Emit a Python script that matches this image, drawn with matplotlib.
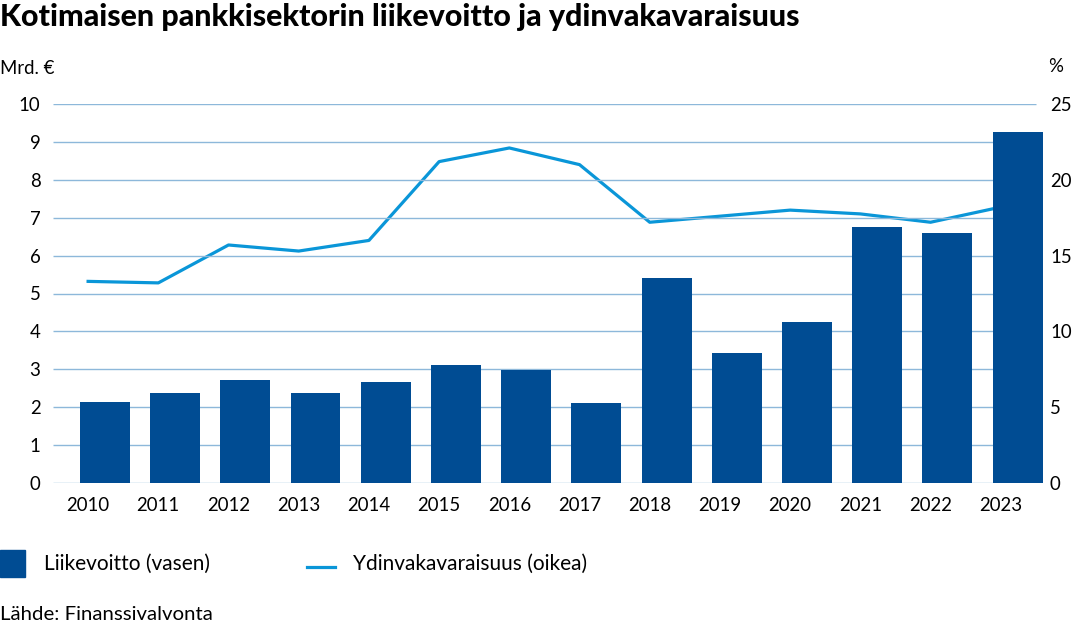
import matplotlib.pyplot as plt
from matplotlib.patches import Rectangle
from matplotlib.lines import Line2D

plt.rcParams['font.family'] = ['Lato', 'DejaVu Sans']

# Data
years = [2010, 2011, 2012, 2013, 2014, 2015, 2016, 2017, 2018, 2019, 2020, 2021, 2022, 2023]
liikevoitto = [2.14, 2.37, 2.72, 2.37, 2.66, 3.11, 2.98, 2.11, 5.41, 3.43, 4.25, 6.75, 6.60, 9.26]
ydinvakavaraisuus = [13.3, 13.2, 15.7, 15.3, 16.0, 21.2, 22.1, 21.0, 17.2, 17.6, 18.0, 17.75, 17.2, 18.2]

bar_color = "#004c93"
line_color = "#0a96d8"
grid_color = "#8db8da"

W, H = 1072, 623
fig = plt.figure(figsize=(W / 100, H / 100), dpi=100)

# axes position in pixels
x0, x1 = 53, 1045
y_top, y_bot = 104, 483
ax = fig.add_axes([x0 / W, 1 - y_bot / H, (x1 - x0) / W, (y_bot - y_top) / H])
ax2 = ax.twinx()

xs = list(range(len(years)))
# line points and year labels sit a bit left of the bar centres
xl = [x - 0.24 for x in xs]
ax.set_xlim(-0.74, 13.39)
ax.set_ylim(0, 10)
ax2.set_ylim(0, 25)

# gridlines
ax.hlines(range(0, 11), -0.74, 13.26, color=grid_color, lw=1, zorder=0)

# line behind bars
ax.set_zorder(ax2.get_zorder() + 1)
ax.patch.set_visible(False)
ax2.plot(xl, ydinvakavaraisuus, color=line_color, lw=2.3)
ax.bar(xs, liikevoitto, width=0.71, color=bar_color, zorder=2)

for a in (ax, ax2):
    for s in a.spines.values():
        s.set_visible(False)
    a.tick_params(length=0, labelsize=13.4)

ax.set_yticks(range(0, 11))
ax.tick_params(axis="y", pad=9)
ax2.set_yticks(range(0, 26, 5))
ax2.tick_params(axis="y", pad=3.6)
ax.set_xticks(xl)
ax.set_xticklabels([str(y) for y in years])
ax.tick_params(axis="x", pad=10)

# texts
fig.text(0 / W, 1 - 17 / H, "Kotimaisen pankkisektorin liikevoitto ja ydinvakavaraisuus",
         fontsize=21.9, fontweight="black", va="center", ha="left")
fig.text(0 / W, 1 - 69 / H, "Mrd. €", fontsize=13.4, va="center", ha="left")
fig.text(1048 / W, 1 - 67 / H, "%", fontsize=13.4, va="center", ha="left")

# legend
fig.patches.append(Rectangle((0, 1 - 577 / H), 25 / W, 27 / H, transform=fig.transFigure,
                             color=bar_color))
fig.text(44 / W, 1 - 564 / H, "Liikevoitto (vasen)", fontsize=15, va="center", ha="left")
fig.lines.append(Line2D([307 / W, 335 / W], [1 - 567 / H, 1 - 567 / H], transform=fig.transFigure,
                        color=line_color, lw=2.3))
fig.text(353 / W, 1 - 564 / H, "Ydinvakavaraisuus (oikea)", fontsize=15, va="center", ha="left")

fig.text(0 / W, 1 - 614 / H, "Lähde: Finanssivalvonta", fontsize=14.7, va="center", ha="left")

fig.savefig("out.png", dpi=100)
